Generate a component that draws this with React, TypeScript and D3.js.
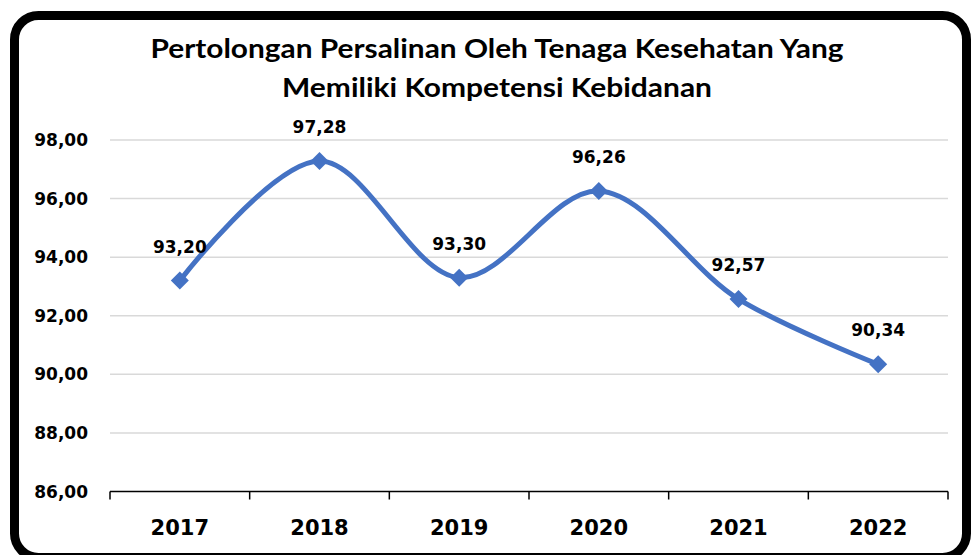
import React from "react";
import * as d3 from "d3";

const categories = ["2017", "2018", "2019", "2020", "2021", "2022"];
const values = [93.2, 97.28, 93.3, 96.26, 92.57, 90.34];
const yTicks = [86, 88, 90, 92, 94, 96, 98];
const titleLines = [
  "Pertolongan Persalinan Oleh Tenaga Kesehatan Yang",
  "Memiliki Kompetensi Kebidanan",
];

const W = 972;
const H = 555;
const fmt = (v: number) => v.toFixed(2).replace(".", ",");

export default function App() {
  const x = d3.scaleBand<string>().domain(categories).range([110, 948]).padding(0);
  const y = d3.scaleLinear().domain([86, 98]).range([491.5, 140]);
  const cx = (c: string) => (x(c) as number) + x.bandwidth() / 2;
  const pts: [number, number][] = categories.map((c, i) => [cx(c), y(values[i])]);
  const line = d3.line().curve(d3.curveCatmullRom.alpha(0.5));
  const font = "'DejaVu Sans', Verdana, sans-serif";
  const edges = categories.map((c) => x(c) as number).concat([948]);

  return (
    <svg width={W} height={H} style={{ position: "absolute", left: 0, top: 0 }}>
      <rect x={0} y={0} width={W} height={H} fill="#fff" />
      <rect x={14.5} y={15.5} width={952} height={542} rx={24} ry={24} fill="#fff" stroke="#000" strokeWidth={9} />
      <g fontFamily="Lato, 'Open Sans', sans-serif" fontWeight={700} fill="#000" textAnchor="middle">
        <text x={497} y={58} fontSize={26} textLength={693} lengthAdjust="spacingAndGlyphs">
          {titleLines[0]}
        </text>
        <text x={497} y={97} fontSize={26} textLength={430} lengthAdjust="spacingAndGlyphs">
          {titleLines[1]}
        </text>
      </g>
      {yTicks.filter((t) => t !== 86).map((t) => (
        <line key={t} x1={110} x2={948} y1={y(t)} y2={y(t)} stroke="#d9d9d9" strokeWidth={1.5} />
      ))}
      <g fontFamily={font} fontWeight={700} fontSize={17} fill="#000" textAnchor="end">
        {yTicks.map((t) => (
          <text key={t} x={88} y={y(t) + 6}>
            {fmt(t)}
          </text>
        ))}
      </g>
      <line x1={110} x2={948} y1={y(86)} y2={y(86)} stroke="#000" strokeWidth={1.5} />
      {edges.map((e, i) => (
        <line key={i} x1={e} x2={e} y1={y(86)} y2={y(86) + 8} stroke="#000" strokeWidth={1.5} />
      ))}
      <g fontFamily={font} fontWeight={700} fontSize={21} fill="#000" textAnchor="middle">
        {categories.map((c) => (
          <text key={c} x={cx(c)} y={535}>
            {c}
          </text>
        ))}
      </g>
      <path d={line(pts) || ""} fill="none" stroke="#4472C4" strokeWidth={5} strokeLinecap="round" />
      {pts.map(([px, py], i) => (
        <path
          key={i}
          d={`M${px},${py - 9}L${px + 9},${py}L${px},${py + 9}L${px - 9},${py}Z`}
          fill="#4472C4"
        />
      ))}
      <g fontFamily={font} fontWeight={700} fontSize={17} fill="#000" textAnchor="middle">
        {pts.map(([px, py], i) => (
          <text key={i} x={px} y={py - 28}>
            {fmt(values[i])}
          </text>
        ))}
      </g>
    </svg>
  );
}
